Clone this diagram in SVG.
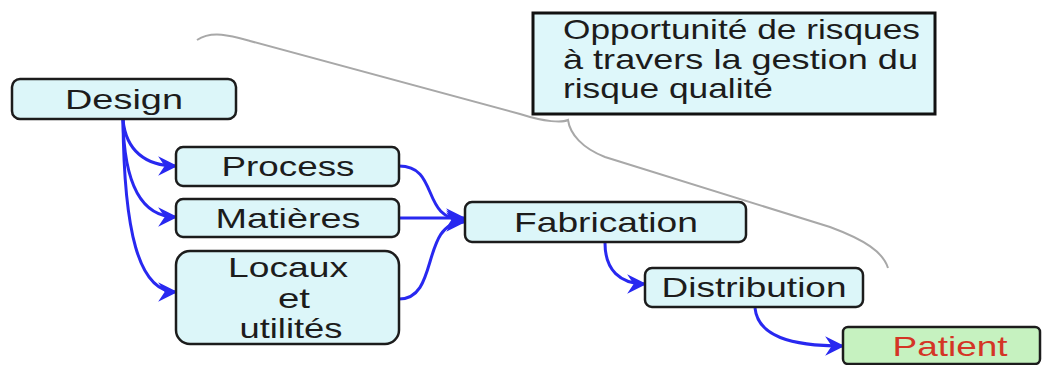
<svg xmlns="http://www.w3.org/2000/svg" width="1049" height="365" viewBox="0 0 1049 365">
<style>
.box{fill:#dcf6f9;stroke:#1c1c1c;stroke-width:2.5}
.t{font-family:"Liberation Sans",Arial,sans-serif;fill:#1c1c1c;text-anchor:middle}
.n{font-size:28px}
.m{text-anchor:start;font-size:28px}
.c{fill:none;stroke:#2828f0;stroke-width:3;marker-end:url(#ah)}
.brace{fill:none;stroke:#a8a8a8;stroke-width:2}
</style>
<defs>
<marker id="ah" viewBox="0 0 12 12" refX="11" refY="6" markerWidth="6.5" markerHeight="6.5" markerUnits="strokeWidth" orient="auto">
<path d="M0,0 L12,6 L0,12 L4,6 z" fill="#2828f0"/>
</marker>
</defs>
<rect width="1049" height="365" fill="#ffffff"/>
<path class="brace" d="M197,40 C212,30 232,36 250,41 L520,114 C545,122 562,123 568,120 C570,134 582,148 605,157 L830,227 C865,240 883,252 888,268"/>
<g id="note">
<rect x="533" y="13" width="402" height="101" fill="#def7fa" stroke="#111" stroke-width="3"/>
<text class="t m" x="563" y="39" textLength="357" lengthAdjust="spacingAndGlyphs">Opportunité de risques</text>
<text class="t m" x="563" y="69" textLength="355" lengthAdjust="spacingAndGlyphs">à travers la gestion du</text>
<text class="t m" x="563" y="98" textLength="210" lengthAdjust="spacingAndGlyphs">risque qualité</text>
</g>
<g id="connectors">
<path class="c" d="M123,120 C126,150 145,166 176,166"/>
<path class="c" d="M123,120 C124,180 140,217 176,217"/>
<path class="c" d="M123,120 C124,230 138,292 176,292"/>
<path class="c" d="M399,166 C440,166 420,220 464,220"/>
<path class="c" d="M399,218 L464,218"/>
<path class="c" d="M399,299 C440,299 420,222 464,222"/>
<path class="c" d="M605,243 C605,270 620,284 645,284"/>
<path class="c" d="M755,308 C758,336 790,346 843,346"/>
</g>
<g id="design">
<rect class="box" x="12" y="79" width="224" height="40" rx="8"/>
<text class="t n" x="124" y="109" font-size="29" textLength="118" lengthAdjust="spacingAndGlyphs">Design</text>
</g>
<g id="process">
<rect class="box" x="176" y="147" width="223" height="39" rx="7"/>
<text class="t n" x="288" y="176" textLength="133" lengthAdjust="spacingAndGlyphs">Process</text>
</g>
<g id="matieres">
<rect class="box" x="176" y="199" width="223" height="38" rx="7"/>
<text class="t n" x="288" y="228" textLength="145" lengthAdjust="spacingAndGlyphs">Matières</text>
</g>
<g id="locaux">
<rect class="box" x="176" y="251" width="223" height="93" rx="14"/>
<text class="t n" x="288" y="277" textLength="120" lengthAdjust="spacingAndGlyphs">Locaux</text>
<text class="t n" x="294" y="308" textLength="32" lengthAdjust="spacingAndGlyphs">et</text>
<text class="t n" x="291" y="338" textLength="103" lengthAdjust="spacingAndGlyphs">utilités</text>
</g>
<g id="fabrication">
<rect class="box" x="465" y="202" width="281" height="40" rx="7"/>
<text class="t n" x="606" y="232" font-size="29" textLength="184" lengthAdjust="spacingAndGlyphs">Fabrication</text>
</g>
<g id="distribution">
<rect class="box" x="645" y="268" width="218" height="39" rx="7"/>
<text class="t n" x="754" y="297" textLength="185" lengthAdjust="spacingAndGlyphs">Distribution</text>
</g>
<g id="patient">
<rect x="843" y="327" width="197" height="37" rx="5" fill="#c6f2c0" stroke="#1c1c1c" stroke-width="2.5"/>
<text class="t n" x="950" y="356" style="fill:#d43526" textLength="115" lengthAdjust="spacingAndGlyphs">Patient</text>
</g>
</svg>
